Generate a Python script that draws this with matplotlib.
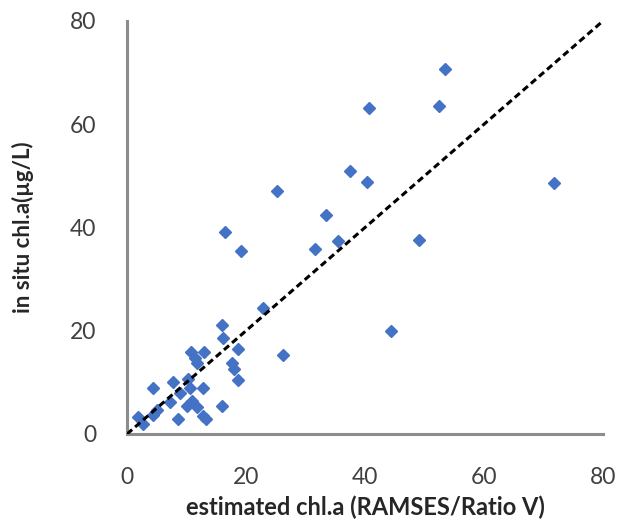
import matplotlib.pyplot as plt

# estimated vs in situ chl.a
estimated = [71.7, 53.4, 40.7, 52.5, 37.5, 40.4, 25.2, 33.4, 16.4, 19.2,
             31.6, 35.5, 49.1, 22.9, 44.3, 15.9, 16.2, 18.7, 26.2, 10.7,
             12.9, 11.4, 11.8, 17.6, 18.0, 18.6, 7.8, 10.3, 4.4, 10.6,
             12.7, 8.9, 7.2, 10.0, 11.0, 11.7, 15.9, 5.0, 4.4, 1.9,
             2.7, 8.6, 12.8, 13.2]
in_situ = [48.6, 70.7, 63.2, 63.5, 51.0, 48.9, 47.1, 42.4, 39.1, 35.4,
           35.8, 37.4, 37.6, 24.5, 20.0, 21.2, 18.5, 16.5, 15.3, 15.8,
           15.9, 14.8, 13.7, 13.8, 12.6, 10.5, 10.1, 10.6, 9.0, 9.0,
           9.0, 7.9, 6.1, 5.4, 6.3, 5.2, 5.4, 4.6, 3.7, 3.2,
           1.9, 3.0, 3.4, 3.0]
one_to_one = [0, 80]
ticks = [0, 20, 40, 60, 80]

plt.rcParams['font.family'] = ['Lato', 'DejaVu Sans']

fig = plt.figure(figsize=(6.27, 5.22), dpi=100)
ax = fig.add_axes([0.2026, 0.1686, 0.7591, 0.7912])

ax.plot(one_to_one, one_to_one, color='black', linestyle=(0, (2.2, 1.3)), linewidth=2.2, zorder=3)
ax.plot(estimated, in_situ, linestyle='none', marker='D', markersize=6,
        color='#4472C4', zorder=2)

ax.set_xlim(0, 80)
ax.set_ylim(0, 80)
ax.set_xticks(ticks)
ax.set_yticks(ticks)
ax.tick_params(length=0, labelsize=16.5, colors='#404040')
ax.tick_params(axis='y', pad=22)
ax.tick_params(axis='x', pad=24)

for side in ['top', 'right']:
    ax.spines[side].set_visible(False)
for side in ['left', 'bottom']:
    ax.spines[side].set_color('#8c8c8c')
    ax.spines[side].set_linewidth(2.2)

ax.set_xlabel('estimated chl.a (RAMSES/Ratio V)', fontsize=17, fontweight='bold',
              color='#262626')
ax.set_ylabel('in situ chl.a(\u00b5g/L)', fontsize=16, fontweight='bold',
              color='#262626')
ax.xaxis.set_label_coords(0.5, -0.148)
ax.yaxis.set_label_coords(-0.195, 0.5)

fig.savefig('out.png', dpi=100)
